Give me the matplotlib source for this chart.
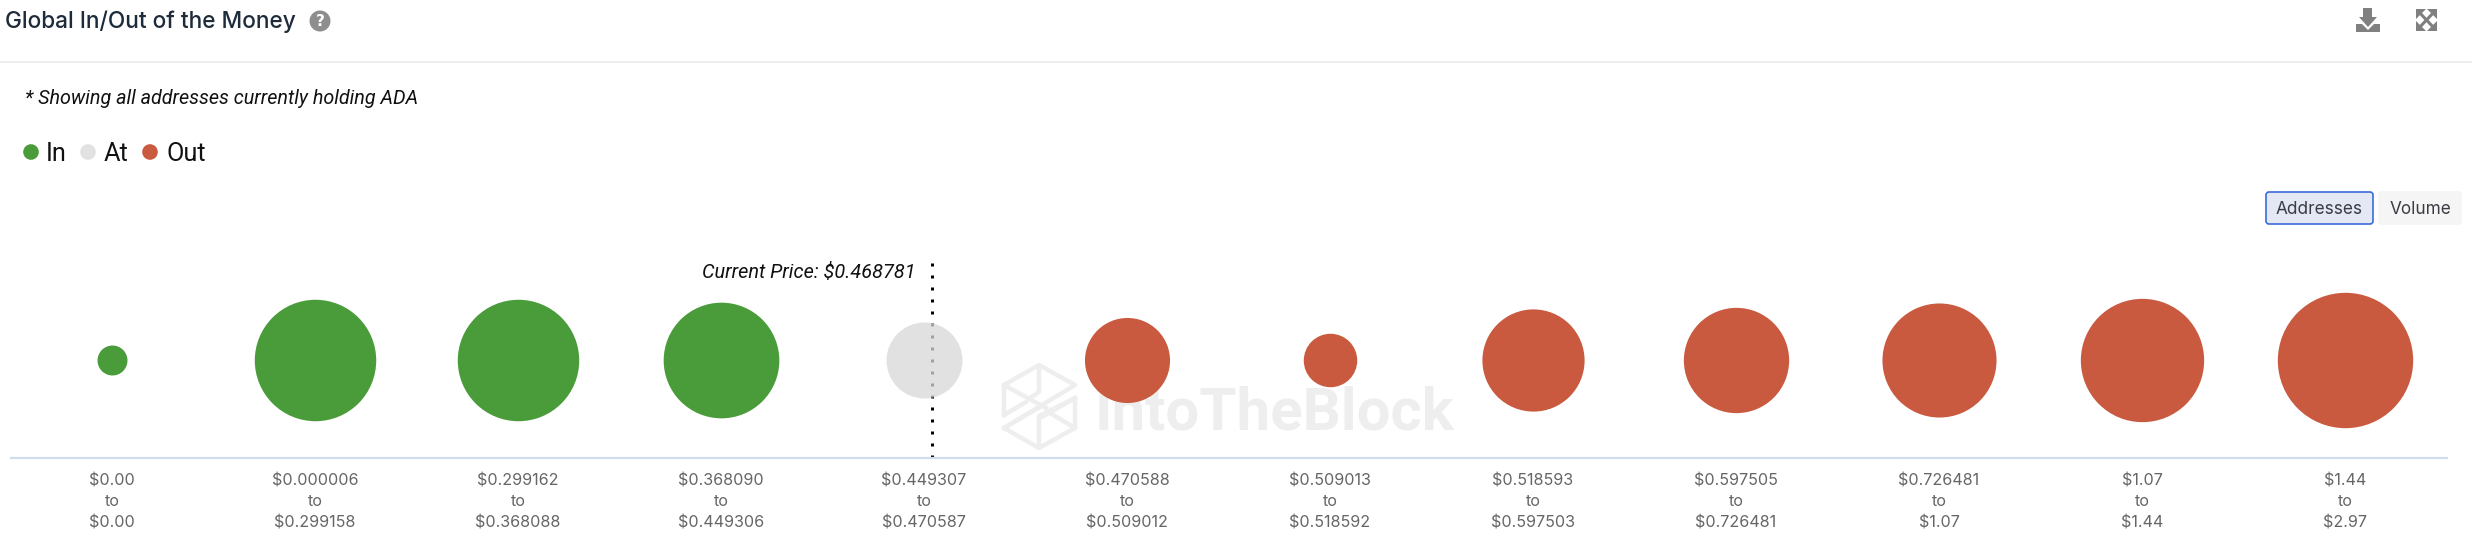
import matplotlib
matplotlib.use('Agg')
import matplotlib.pyplot as plt
from matplotlib.patches import Circle, FancyBboxPatch, Polygon

W, H = 2472, 556

# price bands, lower and upper bound
range_low = ['$0.00', '$0.000006', '$0.299162', '$0.368090', '$0.449307', '$0.470588',
             '$0.509013', '$0.518593', '$0.597505', '$0.726481', '$1.07', '$1.44']
range_high = ['$0.00', '$0.299158', '$0.368088', '$0.449306', '$0.470587', '$0.509012',
              '$0.518592', '$0.597503', '$0.726481', '$1.07', '$1.44', '$2.97']
status = ['In', 'In', 'In', 'In', 'At', 'Out', 'Out', 'Out', 'Out', 'Out', 'Out', 'Out']
# relative address counts (biggest = 100)
addresses = [4.9, 80.5, 80.5, 73, 31.5, 39.5, 15.6, 57, 60.5, 71, 83, 100]

colors = {'In': '#4a9c3b', 'At': '#d8d8d8', 'Out': '#c95a40'}
current_price = '$0.468781'

fig = plt.figure(figsize=(W / 100, H / 100), dpi=100, facecolor='white')

# page layer in pixels for header, legend, buttons and watermark
page = fig.add_axes([0, 0, 1, 1])
page.set_xlim(0, W)
page.set_ylim(H, 0)
page.axis('off')

page.text(5, 22, 'Global In/Out of the Money', fontsize=16.3, family='Inter', weight='medium',
          color='#1d2b3a', va='center')
page.plot([0, W], [62, 62], color='#eeeeee', lw=1.4)

# help icon
page.add_patch(Circle((320, 21), 10.5, color='#8e8e8e', lw=0))
page.text(320, 21.5, '?', fontsize=11, weight='bold', color='white', ha='center', va='center',
          family='DejaVu Sans')

# download icon
icon = '#808080'
page.add_patch(Polygon([(2363, 8), (2372, 8), (2372, 17), (2377, 17), (2368, 27), (2359, 17), (2363, 17)],
                       color=icon, lw=0))
page.add_patch(Polygon([(2356, 24), (2362, 24), (2368, 30), (2374, 24), (2380, 24), (2380, 32), (2356, 32)],
                       color=icon, lw=0))
# expand icon
page.plot([2418, 2435], [11, 29], color=icon, lw=2.2)
page.plot([2418, 2435], [29, 11], color=icon, lw=2.2)
for cx, cy, sx, sy in [(2416, 9, 1, 1), (2437, 9, -1, 1), (2416, 31, 1, -1), (2437, 31, -1, -1)]:
    page.add_patch(Polygon([(cx, cy), (cx + 10 * sx, cy), (cx, cy + 10 * sy)], color=icon, lw=0))

page.text(25, 98, '* Showing all addresses currently holding ADA', fontsize=14.2, style='italic',
          family='Roboto', color='#111111', va='center')

# legend
for name, cx, tx in [('In', 31, 46), ('At', 88, 104), ('Out', 150, 166)]:
    page.add_patch(Circle((cx, 152), 7.8, color='#e2e2e2' if name == 'At' else colors[name], lw=0))
    page.text(tx, 154, name, fontsize=18.2, family='Roboto', color='#111111', va='center')

# buttons
page.add_patch(FancyBboxPatch((2266, 192), 107, 32, boxstyle='round,pad=0,rounding_size=3',
                              fc='#e3e8f4', ec='#3b6bdc', lw=1.2))
page.add_patch(FancyBboxPatch((2378, 191), 84, 34, boxstyle='round,pad=0,rounding_size=3',
                              fc='#f5f5f5', ec='none'))
page.text(2319.5, 209, 'Addresses', fontsize=12.4, family='Inter', color='#3c3c44', ha='center', va='center')
page.text(2420, 209, 'Volume', fontsize=12.4, family='Inter', color='#3c3c44', ha='center', va='center')

# watermark
mark = '#eeeeee'
logo = [[(1004, 415), (1004, 385), (1039, 365), (1075, 385), (1004, 428), (1039, 448), (1075, 428), (1075, 398),
         (1040, 418)],
        [(1039, 367), (1039, 392), (1030, 398)],
        [(1004, 385), (1046, 408)],
        [(1004, 415), (1026, 402)],
        [(1039, 446), (1039, 416), (1075, 398)],
        [(1004, 428), (1040, 407)],
        [(1050, 413), (1075, 428)]]
for part in logo:
    page.plot([p[0] for p in part], [p[1] for p in part], color=mark, lw=3.2, solid_joinstyle='round')
page.text(1095, 429, 'IntoTheBlock', fontsize=43.2, family='Roboto', weight='bold', color=mark,
          va='baseline')

page.text(916, 273, f'Current Price: {current_price}', fontsize=14.35, style='italic', family='Roboto',
          color='#111111', ha='right', va='center')

# bubble chart
ax = fig.add_axes([10.5 / W, (H - 458) / H, 2436 / W, 197 / H], facecolor='none')
positions = list(range(len(addresses)))
ax.set_xlim(-0.5, len(addresses) - 0.5)
ax.set_ylim(-1, 1)

ax.axvline(4.04, color='black', lw=2.16, linestyle=(0, (1, 3)), dash_capstyle='butt', zorder=1)

for x, val, st in zip(positions, addresses, status):
    ax.scatter(x, 0, s=val * 95.0, color=colors[st], linewidths=0, zorder=2,
               alpha=0.75 if st == 'At' else 1)

ax.set_yticks([])
ax.set_xticks(positions)
ax.set_xticklabels([f'{a}\nto\n{b}' for a, b in zip(range_low, range_high)],
                   fontsize=11.6, family='Inter', color='#666666', linespacing=1.5)
ax.tick_params(axis='x', length=0, pad=11)
for side in ['top', 'left', 'right']:
    ax.spines[side].set_visible(False)
ax.spines['bottom'].set_color('#d0dcef')
ax.spines['bottom'].set_linewidth(1.6)

fig.savefig('out.png', dpi=100)
